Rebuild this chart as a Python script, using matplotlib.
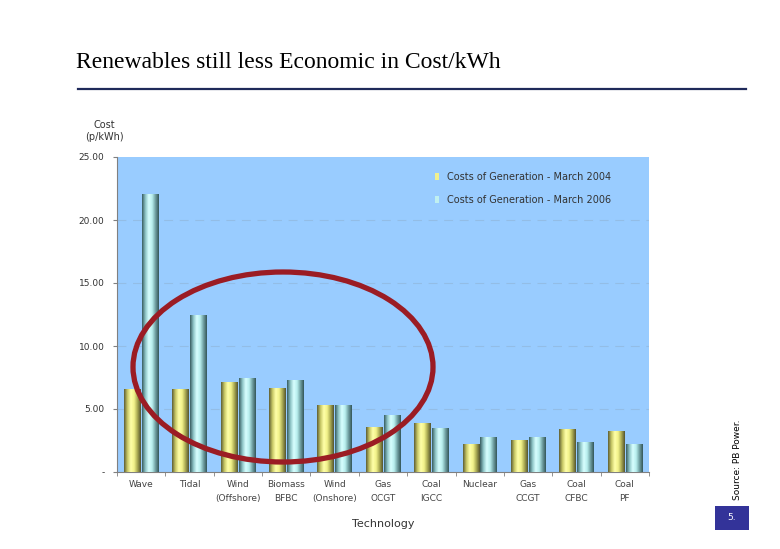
import matplotlib.pyplot as plt
import numpy as np
from matplotlib.colors import LinearSegmentedColormap
from matplotlib.patches import Ellipse, Rectangle

categories = ["Wave", "Tidal", "Wind\n(Offshore)", "Biomass\nBFBC", "Wind\n(Onshore)",
              "Gas\nOCGT", "Coal\nIGCC", "Nuclear", "Gas\nCCGT", "Coal\nCFBC", "Coal\nPF"]
cost_2004 = [6.6, 6.6, 7.15, 6.7, 5.3, 3.55, 3.85, 2.2, 2.55, 3.4, 3.25]
cost_2006 = [22.1, 12.5, 7.45, 7.3, 5.3, 4.5, 3.5, 2.75, 2.75, 2.35, 2.25]
series = ["Costs of Generation - March 2004", "Costs of Generation - March 2006"]
yticks = [0, 5, 10, 15, 20, 25]
ytick_labels = ["-", "5.00", "10.00", "15.00", "20.00", "25.00"]

yellow = LinearSegmentedColormap.from_list("y", ["#5f5f35", "#c8c866", "#ffffa8", "#f2f28a", "#a8a852", "#55552f"])
cyan = LinearSegmentedColormap.from_list("c", ["#3a5e62", "#8fc6c8", "#d8ffff", "#b8eeee", "#70a0a2", "#35575a"])

fig = plt.figure(figsize=(7.8, 5.49), dpi=100)
fig.patch.set_facecolor("white")

# title + rule
fig.text(76 / 780, 1 - 62 / 549, "Renewables still less Economic in Cost/kWh",
         family="Liberation Serif", fontsize=17, va="center", ha="left", color="black")
fig.add_artist(plt.Line2D([78 / 780, 746 / 780], [1 - 89 / 549] * 2, color="#1f2a5a", lw=1.6))

ax = fig.add_axes([117 / 780, 1 - 472 / 549, 532 / 780, 315 / 549])
ax.set_facecolor("#99ccff")

x = np.arange(len(categories))
w = 0.34
bars1 = ax.bar(x - 0.185, cost_2004, w, color="#f0f090", label=series[0], zorder=2)
bars2 = ax.bar(x + 0.185, cost_2006, w, color="#c0f0f0", label=series[1], zorder=2)

grad = np.linspace(0, 1, 64).reshape(1, -1)
for bars, cmap in [(bars1, yellow), (bars2, cyan)]:
    for p in bars:
        x0, y0 = p.get_x(), p.get_y()
        im = ax.imshow(grad, cmap=cmap, aspect="auto", zorder=3,
                       extent=[x0, x0 + p.get_width(), y0, y0 + p.get_height()])
        im.set_clip_path(p)

ax.set_xlim(-0.5, len(categories) - 0.5)
ax.set_ylim(0, 25)
ax.set_yticks(yticks)
ax.set_yticklabels(ytick_labels, fontsize=6.5, color="#333333")
for yv in yticks[1:-1]:
    ax.axhline(yv, color="#93bde6", lw=0.8, ls=(0, (8, 6)), zorder=1)

ax.set_xticks(x)
ax.set_xticklabels(categories, fontsize=6.5, color="#444444", linespacing=1.6)
ax.set_xticks(np.arange(len(categories) + 1) - 0.5, minor=True)
ax.tick_params(axis="x", which="major", length=0, pad=6)
ax.tick_params(axis="x", which="minor", length=3, color="#808080")
ax.tick_params(axis="y", length=3, color="#808080", pad=6)
for s in ["top", "right"]:
    ax.spines[s].set_visible(False)
for s in ["left", "bottom"]:
    ax.spines[s].set_color("#808080")

leg = ax.legend(loc="upper right", bbox_to_anchor=(0.945, 0.98), frameon=False, fontsize=7,
                handlelength=0.4, handleheight=0.8, labelspacing=1.3, labelcolor="#333333")

fig.text(104 / 780, 1 - 131 / 549, "Cost\n(p/kWh)", fontsize=7, ha="center", va="center", color="#333333")
fig.text(383 / 780, 1 - 524 / 549, "Technology", fontsize=8, ha="center", va="center", color="#333333")
fig.text(738 / 780, 1 - 460 / 549, "Source: PB Power.", fontsize=6.5, rotation=90, ha="center", va="center")

# red highlight ring (pixel space)
ring = Ellipse((283, 549 - 367), 300, 190, fill=False, ec="#9b1c24", lw=3.8, transform=None, zorder=10)
fig.add_artist(ring)

fig.add_artist(Rectangle((715 / 780, 1 - 530 / 549), 34 / 780, 24 / 549, transform=fig.transFigure,
                         fc="#333399", ec="none"))
fig.text(732 / 780, 1 - 518 / 549, "5.", fontsize=6.5, color="white", ha="center", va="center")

fig.savefig("out.png", dpi=100)
